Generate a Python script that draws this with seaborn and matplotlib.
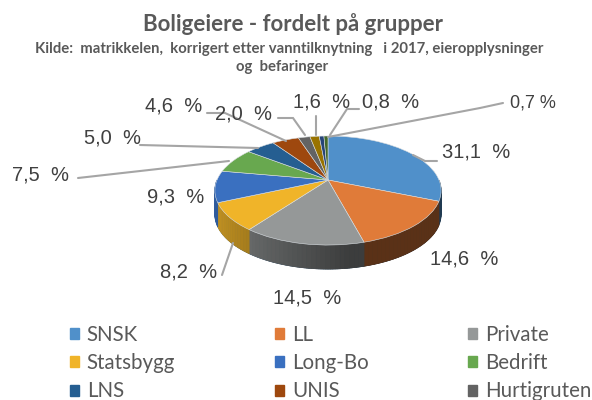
import numpy as np
import matplotlib.pyplot as plt
import matplotlib.transforms as mtransforms
from matplotlib.patches import Patch
import seaborn as sns

# Data
verdier = [31.1, 14.6, 14.5, 8.2, 9.3, 7.5, 5.0, 4.6, 2.0, 1.6, 0.8, 0.7]
etiketter = ['31,1  %', '14,6  %', '14,5  %', '8,2  %', '9,3  %', '7,5  %',
             '5,0  %', '4,6  %', '2,0  %', '1,6  %', '0,8  %', '0,7 %']
grupper = ['SNSK', 'LL', 'Private', 'Statsbygg', 'Long-Bo', 'Bedrift',
           'LNS', 'UNIS', 'Hurtigruten']
farger = ['#5090ca', '#e07b39', '#959898', '#f0b429', '#3a70c0', '#68a84f',
          '#255e91', '#9e480e', '#636363', '#997300', '#264478', '#43682b']

# Plassering av etiketter (piksler) og linjer
etikett_pos = [(442, 152), (430, 259), (273, 298), (160, 272), (147, 197), (12, 175),
               (84, 138), (145, 106), (215, 114), (293, 102), (362, 102), (510, 103)]
linjer = [[(413, 155), (425, 161), (437, 161)],
          [(233, 243), (222, 275)],
          [(78, 178), (229, 161)],
          [(140, 145), (258, 148)],
          [(207, 113), (225, 113), (286, 141)],
          [(278, 118), (293, 118), (305, 135)],
          [(316, 116), (316, 135)],
          [(359, 109), (347, 109), (330, 135)],
          [(503, 103), (480, 108), (328, 137)]]

sns.set_theme(style='white')
plt.rcParams['font.family'] = ['Liberation Sans', 'DejaVu Sans']
palett = sns.color_palette(farger)


# Perspektiv: enhetssirkelen fra ax.pie til piksler i figuren
class Perspektiv(mtransforms.Transform):
    input_dims = 2
    output_dims = 2

    def __init__(self, dy=0):
        super().__init__()
        self.dy = dy

    def transform_non_affine(self, values):
        values = np.asarray(values)
        w = 1 + 0.193 * values[:, 1]
        return np.column_stack([328 + 111 * values[:, 0] / w,
                                180 + self.dy - 52.5 * values[:, 1] / w])


fig = plt.figure(figsize=(5.92, 4.0), dpi=100)
ax = fig.add_axes([0, 0, 1, 1])
wedges, _ = ax.pie(verdier, colors=palett, startangle=90, counterclock=False,
                   wedgeprops={'edgecolor': '#d9dde0', 'linewidth': 0.4})
ax.set_aspect('auto')
ax.set_xlim(0, 592)
ax.set_ylim(400, 0)
ax.axis('off')

topp = Perspektiv()
bunn = Perspektiv(dy=24)
for w in wedges:
    w.set_transform(topp + ax.transData)
    w.set_zorder(3)
    w.set_clip_on(False)
    # Sideveggen, litt mørkere mot høyre
    t1, t2 = max(w.theta1, 180), min(w.theta2, 360)
    if w.theta2 <= 0:
        t1, t2 = max(w.theta1 + 360, 180), min(w.theta2 + 360, 360)
    elif w.theta1 < 0:
        t1, t2 = 180, 360
    if t2 <= t1:
        continue
    kanter = np.radians(np.arange(t1, t2 + 2, 2).clip(max=t2))
    for a, b in zip(kanter[:-1], kanter[1:]):
        sirkel = np.array([[np.cos(a), np.sin(a)], [np.cos(b), np.sin(b)]])
        p1 = topp.transform_non_affine(sirkel)
        p2 = bunn.transform_non_affine(sirkel)[::-1]
        poly = np.vstack([p1, p2])
        lys = max(0.95 - 0.75 * (np.cos((a + b) / 2) + 1.3) / 2, 0.4)
        f = tuple(c * lys for c in w.get_facecolor()[:3])
        ax.fill(poly[:, 0], poly[:, 1], color=f, lw=0.5, zorder=2)

# Linjer og etiketter
for linje in linjer:
    xs, ys = zip(*linje)
    ax.plot(xs, ys, color='#a5a5a5', lw=1.5, zorder=4, solid_joinstyle='miter')
for i, (tekst, (x, y)) in enumerate(zip(etiketter, etikett_pos)):
    ax.text(x, y, tekst, fontsize=13 if i == 11 else 14.5, color='#404040',
            va='center', ha='left', zorder=5)

# Titler
ax.text(293, 24, 'Boligeiere - fordelt på grupper', fontsize=16, fontweight='bold',
        family='Lato', color='#595959', ha='center', va='center')
ax.text(289, 49, 'Kilde:  matrikkelen,  korrigert etter vanntilknytning   i 2017, eieropplysninger',
        fontsize=10.7, fontweight='bold', family='Lato', color='#595959', ha='center', va='center')
ax.text(282, 67, 'og  befaringer', fontsize=10.7, fontweight='bold', family='Lato',
        color='#595959', ha='center', va='center')

# Forklaring (fylles kolonnevis)
rekkefolge = [0, 3, 6, 1, 4, 7, 2, 5, 8]
handles = [Patch(color=palett[i]) for i in rekkefolge]
ax.legend(handles, [grupper[i] for i in rekkefolge], ncol=3, frameon=False,
          loc='upper left', bbox_to_anchor=(70 / 592, 1 - 325 / 400),
          prop={'family': 'Lato', 'size': 14.8}, labelcolor='#595959',
          handlelength=0.45, handleheight=0.45, handletextpad=0.37,
          columnspacing=4.85, labelspacing=0.4, borderpad=0, borderaxespad=0)

fig.savefig('out.png', dpi=100)
